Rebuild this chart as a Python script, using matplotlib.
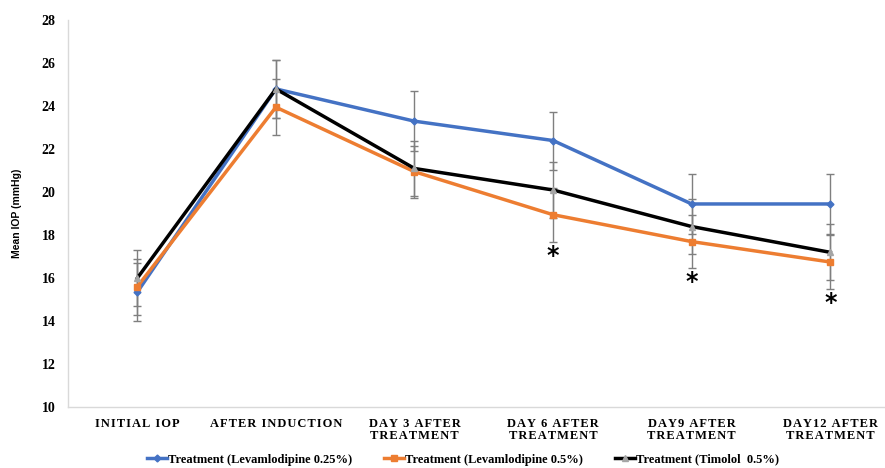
import matplotlib.pyplot as plt
import numpy as np

categories = ['INITIAL IOP', 'AFTER INDUCTION', 'DAY 3 AFTER\nTREATMENT',
              'DAY 6 AFTER\nTREATMENT', 'DAY9 AFTER\nTREATMENT', 'DAY12 AFTER\nTREATMENT']

levam_025 = [15.35, 24.8, 23.3, 22.4, 19.45, 19.45]
levam_025_err = [1.35, 1.35, 1.4, 1.35, 1.4, 1.4]
levam_05 = [15.6, 23.95, 20.95, 18.95, 17.7, 16.75]
levam_05_err = [1.3, 1.3, 1.2, 1.25, 1.25, 1.25]
timolol = [16.0, 24.8, 21.1, 20.1, 18.4, 17.2]
timolol_err = [1.3, 1.35, 1.3, 1.3, 1.3, 1.3]

# points with significance marks (index of category)
signif = [3, 4, 5]

series = [
    ('Treatment (Levamlodipine 0.25%)', levam_025, levam_025_err, '#4472c4', 'D', '#4472c4', 3.5),
    ('Treatment (Levamlodipine 0.5%)', levam_05, levam_05_err, '#ed7d31', 's', '#ed7d31', 5),
    ('Treatment (Timolol  0.5%)', timolol, timolol_err, 'black', '^', '#a5a5a5', 5),
]

serif = 'Liberation Serif'


def spaced(s):
    # letter-spaced look of the original axis labels
    return '\n'.join('\u200a'.join(line) for line in s.split('\n'))


fig = plt.figure(figsize=(8.85, 4.68), dpi=100)
ax = fig.add_axes([0.0768, 0.130, 0.9397, 0.827])

x = np.arange(len(categories))
for label, vals, err, col, mk, mcol, ms in series:
    ax.errorbar(x, vals, yerr=err, fmt='none', ecolor='#7f7f7f', elinewidth=1.0,
                capsize=3, capthick=1.0, zorder=2)
    ax.plot(x, vals, color=col, lw=2.5, marker=mk, markersize=ms,
            markerfacecolor=mcol, markeredgecolor=mcol, label=label, zorder=3)

for i in signif:
    ax.text(x[i], levam_05[i] - levam_05_err[i] - 0.65, '*', ha='center', va='center',
            fontsize=17, fontweight='bold', family='DejaVu Sans', color='black')

ax.set_xlim(-0.5, 5.5)
ax.set_ylim(10, 28)
ax.set_yticks(np.arange(10, 29, 2))
ax.set_xticks(x)
ax.set_xticklabels([spaced(c) for c in categories], family=[serif, 'DejaVu Serif'],
                   fontweight='bold', fontsize=9, linespacing=0.95)
for t in ax.get_yticklabels():
    t.set_family(serif)
    t.set_fontweight('bold')
    t.set_fontsize(10)
ax.tick_params(axis='both', length=0, pad=8)
ax.tick_params(axis='y', pad=9)

for s in ['top', 'right']:
    ax.spines[s].set_visible(False)
for s in ['left', 'bottom']:
    ax.spines[s].set_color('#d9d9d9')
    ax.spines[s].set_linewidth(1.0)

ax.set_ylabel('Mean IOP (mmHg)', family='Liberation Sans', fontweight='bold', fontsize=7.5,
              labelpad=14)

leg = fig.legend(loc='center', bbox_to_anchor=(0.523, 0.018), ncol=3, frameon=False,
                 prop={'family': serif, 'weight': 'bold', 'size': 9},
                 handlelength=1.6, columnspacing=2.6, handletextpad=0.05)

fig.savefig('out.png', dpi=100)
